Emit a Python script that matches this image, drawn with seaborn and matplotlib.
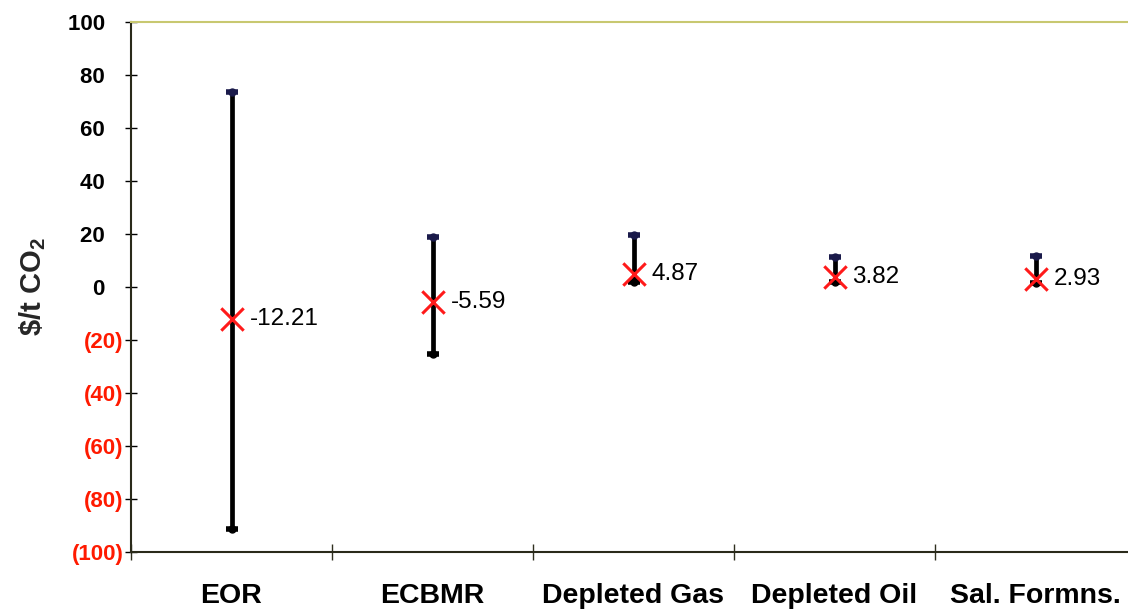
import matplotlib
matplotlib.use("Agg")
import matplotlib.pyplot as plt
import seaborn as sns
import pandas as pd
import numpy as np

# Storage options and their cost ranges ($/t CO2)
categories = ["EOR", "ECBMR", "Depleted Gas", "Depleted Oil", "Sal. Formns."]
low_values = [-91.5, -25.3, 2.0, 2.0, 1.5]
high_values = [73.5, 18.9, 19.7, 11.3, 11.7]
mean_values = [-12.21, -5.59, 4.87, 3.82, 2.93]
y_ticks = [100, 80, 60, 40, 20, 0, -20, -40, -60, -80, -100]

sns.set_theme(style="white")
plt.rcParams["font.family"] = ["Liberation Sans", "DejaVu Sans"]
plt.rcParams["mathtext.fontset"] = "custom"
plt.rcParams["mathtext.rm"] = "Liberation Sans"
plt.rcParams["mathtext.bf"] = "Liberation Sans:bold"

df = pd.DataFrame({"option": categories, "low": low_values,
                   "high": high_values, "mean": mean_values})

fig = plt.figure(figsize=(11.28, 6.11), dpi=100)
ax = fig.add_axes([131 / 1128, 59 / 611, 1005 / 1128, 530 / 611])

pos = np.arange(len(categories))

# range bars
ax.vlines(pos, df["low"], df["high"], color="black", linewidth=3.4, zorder=2)
ax.plot(pos, df["high"], linestyle="none", marker="o", markersize=5,
        color="#1a1a4a", zorder=3)
ax.plot(pos, df["low"], linestyle="none", marker="o", markersize=5,
        color="black", zorder=3)
ax.plot(pos, df["high"], linestyle="none", marker="_", markersize=8,
        markeredgewidth=4, color="#1a1a4a", zorder=3)
ax.plot(pos, df["low"], linestyle="none", marker="_", markersize=8,
        markeredgewidth=4, color="black", zorder=3)

# mean markers
sns.scatterplot(data=df, x="option", y="mean", marker="x", s=260,
                color="#ff1a1a", linewidth=2.2, zorder=4, ax=ax)

for i, v in enumerate(mean_values):
    ax.annotate(f"{v:.2f}", (pos[i], v), xytext=(13, 0),
                textcoords="offset points", va="center", ha="left",
                fontsize=17.5, color="black")

ax.set_xlim(-0.5, len(categories) - 0.5)
ax.set_ylim(-100, 100)

ax.set_yticks(y_ticks)
ax.set_yticklabels([f"({abs(t)})" if t < 0 else f"{t}   " for t in y_ticks],
                   fontsize=16, fontweight="bold")
ax.tick_params(axis="y", direction="inout", length=8, width=1, pad=1.5,
               left=True, colors="black")
for lbl, t in zip(ax.get_yticklabels(), y_ticks):
    lbl.set_color("#ff1a00" if t < 0 else "black")

ax.set_xticks(np.arange(-0.5, len(categories), 1.0))
ax.set_xticklabels([])
ax.set_xticks(pos, minor=True)
ax.set_xticklabels(categories, minor=True, fontsize=20.5, fontweight="bold")
ax.tick_params(axis="x", which="major", direction="inout", length=12,
               width=1, bottom=True, colors="#303020")
ax.tick_params(axis="x", which="minor", length=0, pad=22, labelcolor="black")

ax.set_xlabel("")
ax.set_ylabel(r"\$/t CO$_\mathbf{2}$", fontsize=21, fontweight="bold")
ax.yaxis.set_label_coords(-0.083, 0.5)

for side in ["left", "bottom"]:
    ax.spines[side].set_color("#2a2a1a")
    ax.spines[side].set_linewidth(1.5)
ax.spines["top"].set_color("#c8c870")
ax.spines["top"].set_linewidth(1.5)
ax.spines["right"].set_visible(False)

fig.savefig("out.png", dpi=100)
